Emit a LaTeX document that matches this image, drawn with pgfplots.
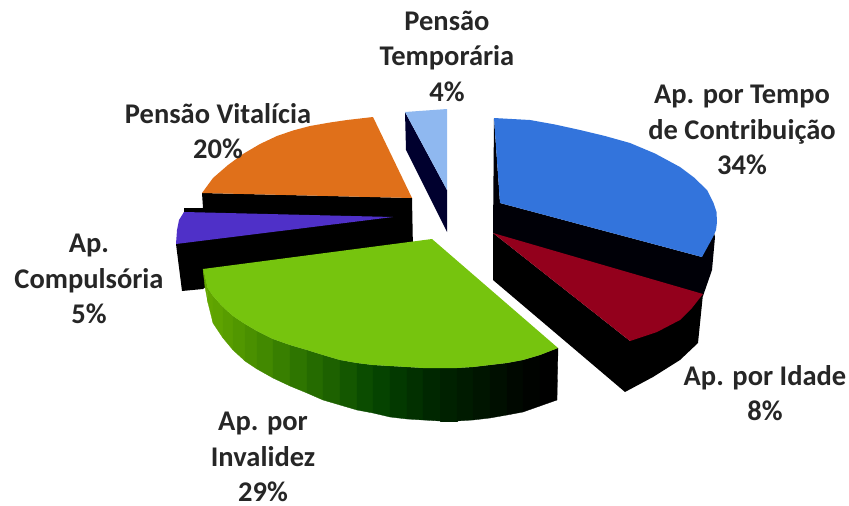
\documentclass[border=0pt]{standalone}
\usepackage{fontspec}
\setmainfont{Carlito}
\usepackage{pgfplots}
\pgfplotsset{compat=1.18}
\definecolor{Blue}{HTML}{3374DC}
\definecolor{Wine}{HTML}{93001C}
\definecolor{Leaf}{HTML}{76C40E}
\definecolor{Orange}{HTML}{E0701A}
\definecolor{Violet}{HTML}{4F30C8}
\definecolor{Sky}{HTML}{8FB8F0}
\definecolor{Navy}{HTML}{00002E}
\definecolor{Ink}{HTML}{262626}
\tikzset{lab/.style={text=Ink,align=center,inner sep=0pt,font=\fontsize{28.5}{35.5}\selectfont\bfseries}}
\begin{document}
\begin{tikzpicture}
\path[use as bounding box] (0,0) rectangle (849pt,506pt);
\begin{axis}[
  at={(0,0)},anchor=south west,
  width=849pt,height=506pt,scale only axis,
  xmin=0,xmax=849,ymin=0,ymax=506,
  y dir=reverse,
  hide axis,
  clip=false,
  colormap={sidegreen}{rgb255(0cm)=(100,168,0); rgb255(3cm)=(48,120,0); rgb255(6cm)=(6,70,0); rgb255(8cm)=(0,40,0); rgb255(12cm)=(0,0,0)},
  point meta min=204,point meta max=530,
]
% sides
\addplot[fill=Navy,draw=none] coordinates {(405,112)(447,190)(447,232)(406,150)} --cycle;
\addplot[fill=black,draw=none] coordinates {(202,193)(412,198)(413,250)(215,280)(203,289)(182,291)(176,244)(184,212)(184,208)(203,208)} --cycle;
\addplot[fill=black!85!Navy,draw=none] coordinates {(494,118)(500,203)(702,257)(712,225)(715,237)(712,270)(703,296)(500,236)(493,233)} --cycle;
\addplot[fill=black,draw=none] coordinates {(493,233)(630,341)(703,294)(698,343)(680,360)(653,377)(625,392)(493,280)} --cycle;
% green side, one band for each step along the rim
\addplot[patch,patch type=rectangle,shader=faceted,faceted color=mapped color,line width=0.3pt,point meta=explicit] table[meta=c] {
x y c
203 269 204
207 287 204
208 303 204
205 287 204
207 287 207
213 296 207
213 323 207
208 303 207
213 296 213
223 307 213
223 338 213
213 323 213
223 307 223
233 316 223
233 350 223
223 338 223
233 316 233
245 324 233
245 361 233
233 350 233
245 324 245
257 331 245
257 369 245
245 361 245
257 331 257
273 339 257
273 378 257
257 369 257
273 339 273
290 345 273
290 386 273
273 378 273
290 345 290
307 350 290
307 393 290
290 386 290
307 350 307
323 355 307
323 400 307
307 393 307
323 355 323
340 360 323
340 405 323
323 400 323
340 360 340
357 363 340
357 410 340
340 405 340
357 363 357
373 365 357
373 413 357
357 410 357
373 365 373
390 366 373
390 417 373
373 413 373
390 366 390
407 367 390
407 419 390
390 417 390
407 367 407
423 368 407
423 420 407
407 419 407
423 368 423
440 368 423
440 421 423
423 420 423
440 368 440
457 368 440
457 421 440
440 421 440
457 368 457
473 367 457
473 420 457
457 421 457
473 367 473
490 365 473
490 418 473
473 420 473
490 365 490
507 363 490
507 415 490
490 418 490
507 363 507
523 360 507
523 412 507
507 415 507
523 360 523
540 355 523
540 406 523
523 412 523
540 355 540
558 348 540
557 400 540
540 406 540
};
% tops
\addplot[fill=Sky,draw=none] coordinates {(405,112)(447,109)(447,190)} --cycle;
\addplot[fill=Orange,draw=none] coordinates {(202,193)(213,178)(228,165)(243,154)(260,144)(277,136)(293,130.5)(310,126)(330,122.5)(347,120)(373,117)(412,198)} --cycle;
\addplot[fill=Violet,draw=none] coordinates {(184,212)(179,220)(177,230)(176,244)(393,217)} --cycle;
\addplot[fill=Leaf,draw=none] coordinates {(203,269)(432,239)(558,348)(540,355)(523,360)(507,363)(490,365)(473,367)(457,368)(440,368)(423,368)(407,367)(390,366)(373,365)(357,363)(340,360)(323,355)(307,350)(290,345)(273,339)(257,331)(245,324)(233,316)(223,307)(213,296)(207,287)} --cycle;
\addplot[fill=Blue,draw=none] coordinates {(494,118)(530,120)(555,124.5)(580,130)(605,136)(630,143)(655,153.5)(680,167)(694,177.5)(707,190)(713.5,203)(716.5,212)(717,222)(716,230)(713,237)(702,257)(500,203)} --cycle;
\addplot[fill=Wine,draw=none] coordinates {(493,233)(703,294)(692,308)(680,320)(657,332)(630,341)} --cycle;
% labels
\node[lab] at (axis cs:447,56) {Pensão\\Temporária\\4\%};
\node[lab] at (axis cs:742,130) {Ap. por Tempo\\de Contribuição\\34\%};
\node[lab] at (axis cs:218,131) {Pensão Vitalícia\\20\%};
\node[lab] at (axis cs:89,279) {Ap.\\Compulsória\\5\%};
\node[lab] at (axis cs:765,393) {Ap. por Idade\\8\%};
\node[lab] at (axis cs:263,457) {Ap. por\\Invalidez\\29\%};
\end{axis}
\end{tikzpicture}
\end{document}
